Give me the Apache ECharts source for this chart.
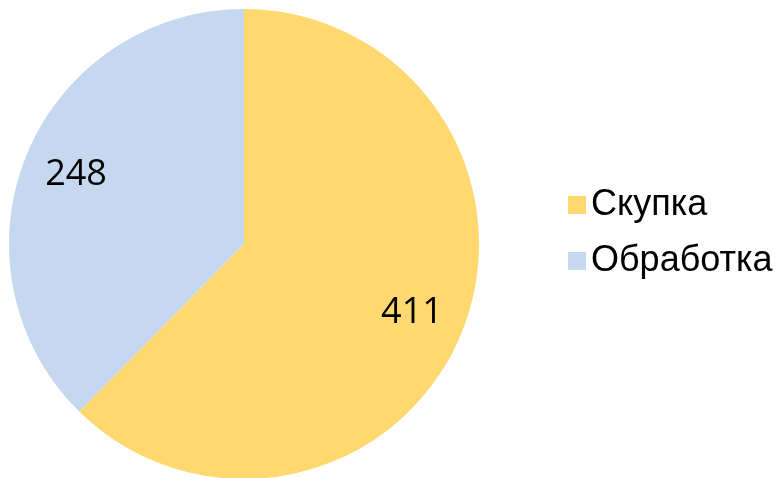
<!DOCTYPE html>
<html>
<head>
<meta charset="utf-8">
<script src="https://cdn.jsdelivr.net/npm/echarts@6/dist/echarts.min.js"></script>
<style>
  html, body { margin: 0; padding: 0; background: #fff; }
  #chart { width: 784px; height: 478px; }
</style>
</head>
<body>
<div id="chart"></div>
<script>
var names = ['Скупка', 'Обработка'];
var values = [411, 248];
var colors = ['#FFD96F', '#C6D8F0'];

var pieData = [];
for (var i = 0; i < names.length; i++) {
  pieData.push({ name: names[i], value: values[i], itemStyle: { color: colors[i] } });
}

var myChart = echarts.init(document.getElementById('chart'));
var option = {
  animation: false,
  legend: {
    orient: 'vertical',
    left: 563,
    top: 182,
    icon: 'rect',
    itemWidth: 18,
    itemHeight: 18,
    itemGap: 20,
    data: names,
    textStyle: { fontFamily: 'Liberation Sans', fontSize: 36, color: '#000' }
  },
  series: [
    {
      type: 'pie',
      center: [244, 244],
      radius: 235,
      startAngle: 90,
      clockwise: true,
      label: { show: false },
      labelLine: { show: false },
      silent: true,
      data: pieData
    },
    {
      // невидимое кольцо, только чтобы вынести подписи ближе к краю
      type: 'pie',
      center: [244, 244],
      radius: [122, 235],
      startAngle: 90,
      clockwise: true,
      silent: true,
      itemStyle: { color: 'transparent' },
      label: {
        show: true,
        position: 'inside',
        formatter: '{c}',
        fontFamily: 'Open Sans',
        fontSize: 36,
        color: '#000'
      },
      labelLine: { show: false },
      data: values.map(function (v, i) { return { name: names[i], value: v }; })
    }
  ]
};
myChart.setOption(option);
</script>
</body>
</html>
